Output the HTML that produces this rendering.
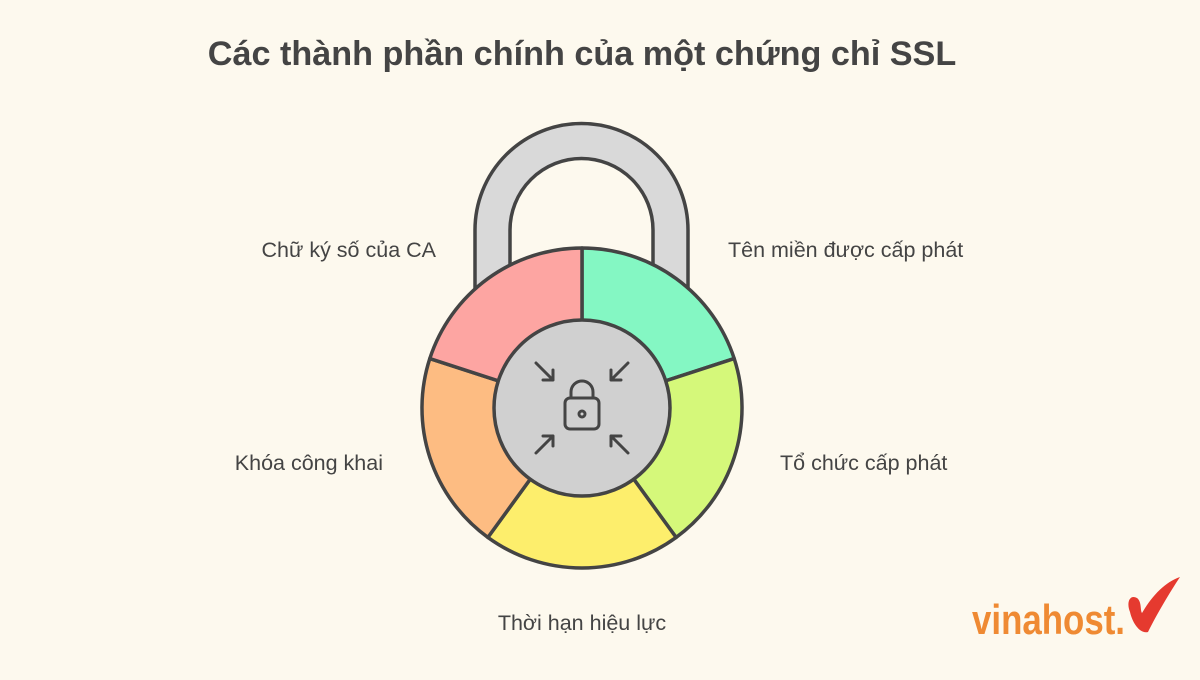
<!DOCTYPE html>
<html><head><meta charset="utf-8"><style>
html,body{margin:0;padding:0;}
body{width:1200px;height:675px;background:#fdf9ee;overflow:hidden;}
</style></head><body>
<svg width="1200" height="675" viewBox="0 0 1200 675" xmlns="http://www.w3.org/2000/svg" font-family="Liberation Sans, DejaVu Sans, sans-serif">
<rect width="1200" height="675" fill="#fdf9ee"/>
<text x="582" y="65" text-anchor="middle" font-size="34.2" font-weight="bold" fill="#444">Các thành phần chính của một chứng chỉ SSL</text>
<path d="M475 300 V230 A106.5 106.5 0 0 1 688 230 V300 H653 V230 A71.5 71.5 0 0 0 510 230 V300 Z" fill="#d9d9d9" stroke="#444" stroke-width="3.5" stroke-linejoin="round"/>
<g stroke="#444" stroke-width="3.5" stroke-linejoin="round">
<path d="M582 408 L582 248 A160 160 0 0 1 734.2 358.6 Z" fill="#84f7c3"/>
<path d="M582 408 L734.2 358.6 A160 160 0 0 1 676.1 537.4 Z" fill="#d5f87a"/>
<path d="M582 408 L676.1 537.4 A160 160 0 0 1 487.9 537.4 Z" fill="#fdee6c"/>
<path d="M582 408 L487.9 537.4 A160 160 0 0 1 429.8 358.6 Z" fill="#fdbc82"/>
<path d="M582 408 L429.8 358.6 A160 160 0 0 1 582 248 Z" fill="#fda5a2"/>
<circle cx="582" cy="408" r="88" fill="#d0d0d0"/>
</g>
<g fill="none" stroke="#444" stroke-width="3" stroke-linecap="round" stroke-linejoin="round">
<rect x="565" y="398" width="34" height="31" rx="5"/>
<path d="M571 398 V392 A11 11 0 0 1 593 392 V398"/>
<circle cx="582" cy="414" r="3"/>
<path d="M536 363 L553 380 M553 370 V380 H543"/>
<path d="M628 363 L611 380 M611 370 V380 H621"/>
<path d="M536 453 L553 436 M543 436 H553 V446"/>
<path d="M628 453 L611 436 M621 436 H611 V446"/>
</g>
<g font-size="21.5" fill="#444">
<text x="436" y="257" text-anchor="end">Chữ ký số của CA</text>
<text x="728" y="257">Tên miền được cấp phát</text>
<text x="383" y="470" text-anchor="end">Khóa công khai</text>
<text x="780" y="470">Tổ chức cấp phát</text>
<text x="582" y="630" text-anchor="middle">Thời hạn hiệu lực</text>
</g>
<text x="972" y="634" font-size="42" font-weight="bold" fill="#ef8a33" textLength="153" lengthAdjust="spacingAndGlyphs" font-family="Liberation Sans Narrow, Liberation Sans, sans-serif">vinahost.</text>
<path d="M1130 612 C1126 602 1130 594 1137 598 C1142 602 1140 610 1142 613 C1152 596 1165 582 1180 577 C1170 592 1157 614 1148 632 C1141 634 1133 625 1130 612 Z" fill="#e53a2f"/>
</svg>
</body></html>
